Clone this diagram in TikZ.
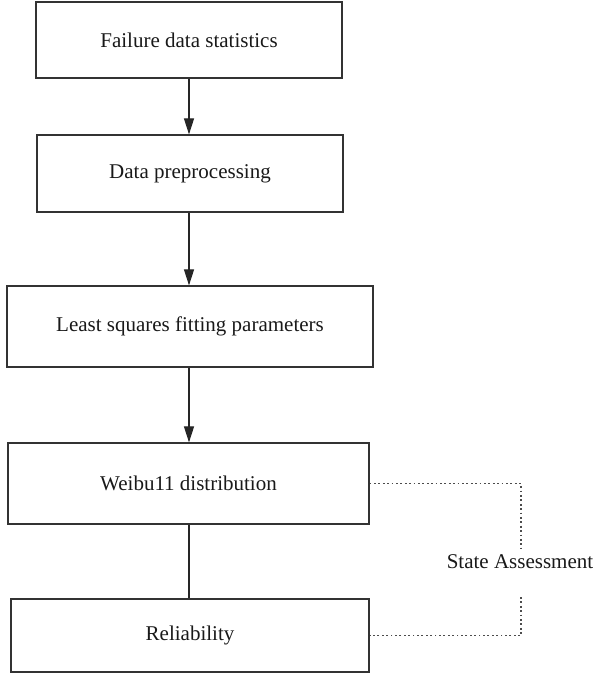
\documentclass[tikz,border=0pt]{standalone}
\usepackage{fontspec}
\setmainfont{Liberation Serif}
\usetikzlibrary{arrows.meta}

\tikzset{
  box/.style={draw=black!80, line width=1.2pt, text=black!90, inner sep=0pt},
  flow/.style={draw=black!85, line width=1.1pt, -{Triangle[length=16pt,width=10pt]}},
  link/.style={draw=black!85, line width=1.1pt},
  assess/.style={draw=black!70, line width=1.5pt, dash pattern=on 1.8pt off 2.6pt}
}

\begin{document}
\begin{tikzpicture}[x=1pt, y=-1pt, font=\fontsize{21}{25}\selectfont]
\useasboundingbox (0,0) rectangle (595,674);

\node[box, minimum width=306pt, minimum height=76pt] (fds) at (189,40) {Failure data statistics};
\node[box, minimum width=306pt, minimum height=77pt] (dp) at (190,173.5) {Data preprocessing};
\node[box, minimum width=366pt, minimum height=81pt] (lsf) at (190,326.5) {Least squares fitting parameters};
\node[box, minimum width=361pt, minimum height=81pt] (wd) at (188.5,483.5) {Weibu11 distribution};
\node[box, minimum width=358pt, minimum height=73pt] (rel) at (190,635.5) {Reliability};

\draw[flow] (fds.south -| 189,0) -- (dp.north -| 189,0);
\draw[flow] (dp.south -| 189,0) -- (lsf.north -| 189,0);
\draw[flow] (lsf.south -| 189,0) -- (wd.north -| 189,0);
\draw[link] (wd.south -| 189,0) -- (rel.north -| 189,0);

% state assessment loop, broken around its label
\node[text=black!90] (sa) at (520,562) {State Assessment};
\coordinate (gtop) at (521,548);
\coordinate (gbot) at (521,597);
\draw[assess] (wd.east) -| (gtop);
\draw[assess] (gbot) |- (rel.east);

\end{tikzpicture}
\end{document}
